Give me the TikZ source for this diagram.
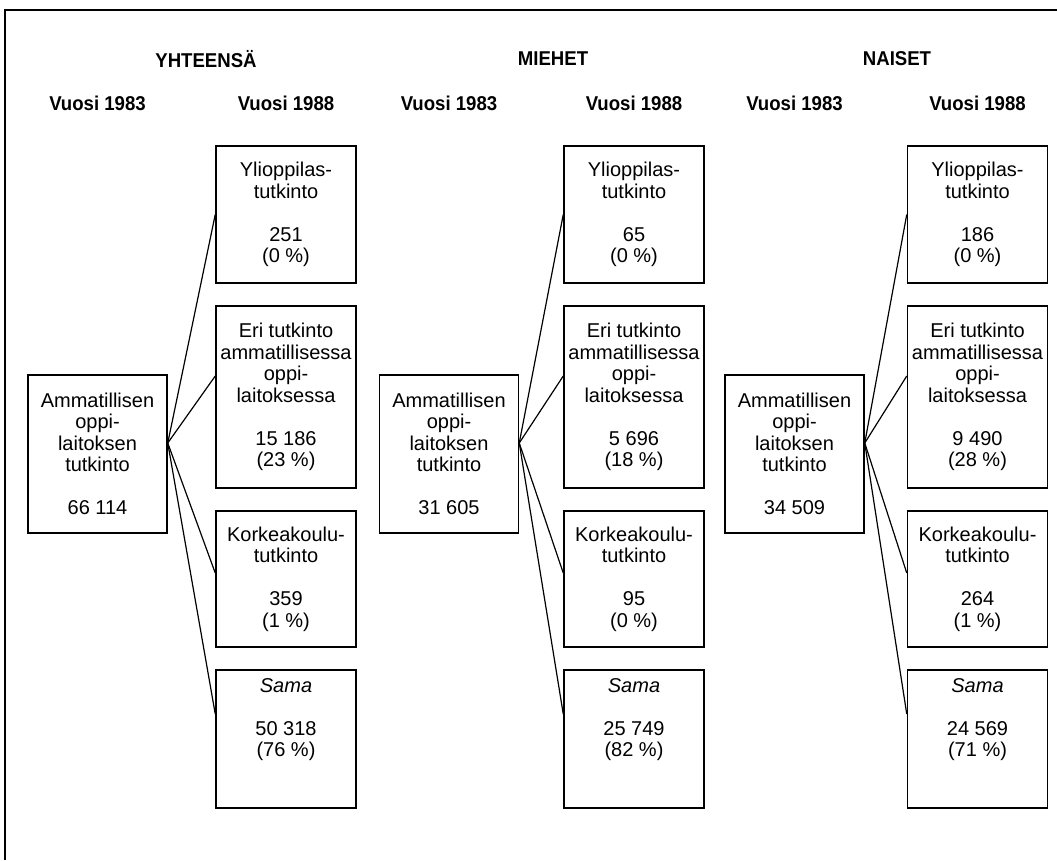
\documentclass[tikz,border=0pt]{standalone}
\usepackage{fontspec}
\setmainfont{Liberation Sans}
\newfontfamily\headfont{Liberation Sans}[FakeStretch=0.93]

\begin{document}
\begin{tikzpicture}[x=1pt, y=-1pt,
    box/.style={draw, line width=1.5pt, align=center, inner sep=0pt, minimum width=140pt,
      font=\fontsize{20}{21.5}\selectfont},
    head/.style={font=\headfont\bfseries\fontsize{20}{22}\selectfont},
    link/.style={line width=1.2pt}]
  \useasboundingbox (0,0) rectangle (1057,860);
  \draw[line width=1.8pt] (5,860) -- (5,10) -- (1057,10);
  \foreach \g/\sx/\tx/\hx/\grp/\tot/\na/\pa/\nb/\pb/\nc/\pc/\nd/\pd in {
      l/97.5/286/206/YHTEENSÄ/66 114/251/0/15 186/23/359/1/50 318/76,
      m/449/634/553/MIEHET/31 605/65/0/5 696/18/95/0/25 749/82,
      r/794.5/977.5/897/NAISET/34 509/186/0/9 490/28/264/1/24 569/71} {
    \node[head] (title\g) at (\hx,59) {\grp};
    \node[head] (old\g) at (\sx,103) {Vuosi 1983};
    \node[head] (new\g) at (\tx,103) {Vuosi 1988};
    % vuosi 1983
    \node[box, minimum width=139pt, minimum height=158pt] (src\g) at (\sx,454)
      {Ammatillisen\\oppi-\\laitoksen\\tutkinto\\[21.5pt]\tot};
    % vuosi 1988
    \node[box, minimum height=137pt] (yo\g) at (\tx,214.5)
      {Ylioppilas-\\tutkinto\\[21.5pt]\na\\(\pa{} \%)};
    \node[box, minimum height=182pt] (eri\g) at (\tx,397)
      {Eri tutkinto\\ammatillisessa\\oppi-\\laitoksessa\\[21.5pt]\nb\\(\pb{} \%)};
    \node[box, minimum height=136pt] (kk\g) at (\tx,579)
      {Korkeakoulu-\\tutkinto\\[21.5pt]\nc\\(\pc{} \%)};
    \node[box, minimum height=138pt] (sama\g) at (\tx,739)
      {\textit{Sama}\\[21.5pt]\nd\\(\pd{} \%)\\[21.5pt]~};
    \draw[link] ([yshift=11pt]src\g.east) -- (yo\g.west);
    \draw[link] ([yshift=11pt]src\g.east) -- ([yshift=21pt]eri\g.west);
    \draw[link] ([yshift=11pt]src\g.east) -- ([yshift=6pt]kk\g.west);
    \draw[link] ([yshift=11pt]src\g.east) -- ([yshift=25pt]sama\g.west);
  }
\end{tikzpicture}
\end{document}
